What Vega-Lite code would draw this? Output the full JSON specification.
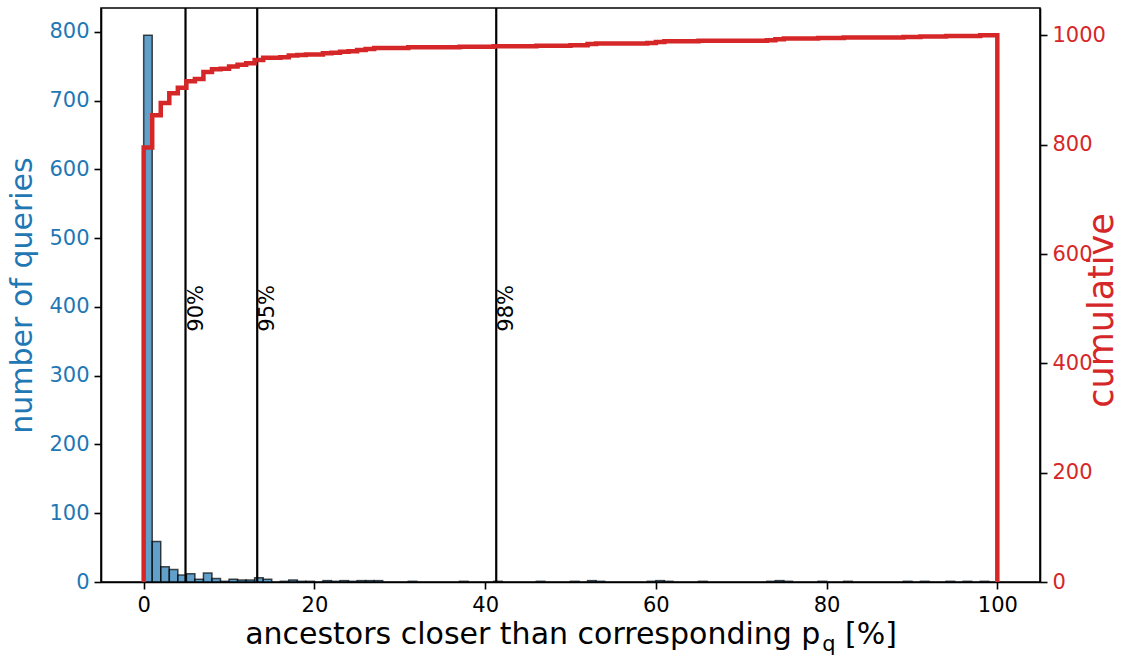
{
  "$schema": "https://vega.github.io/schema/vega-lite/v6.json",
  "width": 939,
  "height": 574,
  "autosize": {"type": "none"},
  "padding": {"left": 101, "top": 8, "right": 108, "bottom": 75},
  "background": "white",
  "config": {
    "font": "DejaVu Sans",
    "view": {"stroke": "black", "strokeWidth": 1.6},
    "axis": {
      "grid": false,
      "domainColor": "black",
      "domainWidth": 1.6,
      "tickColor": "black",
      "tickWidth": 1.6,
      "tickSize": 7,
      "labelFontSize": 21,
      "titleFontSize": 30,
      "titleFontWeight": "normal",
      "labelFont": "DejaVu Sans",
      "titleFont": "DejaVu Sans",
      "labelPadding": 5
    }
  },
  "datasets": {
    "hist": [
      {"lo": 0, "hi": 1, "n": 795},
      {"lo": 1, "hi": 2, "n": 59},
      {"lo": 2, "hi": 3, "n": 22},
      {"lo": 3, "hi": 4, "n": 18},
      {"lo": 4, "hi": 5, "n": 10},
      {"lo": 5, "hi": 6, "n": 12},
      {"lo": 6, "hi": 7, "n": 4},
      {"lo": 7, "hi": 8, "n": 13},
      {"lo": 8, "hi": 9, "n": 5},
      {"lo": 9, "hi": 10, "n": 1},
      {"lo": 10, "hi": 11, "n": 4},
      {"lo": 11, "hi": 12, "n": 3},
      {"lo": 12, "hi": 13, "n": 3},
      {"lo": 13, "hi": 14, "n": 6},
      {"lo": 14, "hi": 15, "n": 4},
      {"lo": 16, "hi": 17, "n": 1},
      {"lo": 17, "hi": 18, "n": 3},
      {"lo": 18, "hi": 19, "n": 1},
      {"lo": 19, "hi": 20, "n": 1},
      {"lo": 21, "hi": 22, "n": 2},
      {"lo": 22, "hi": 23, "n": 1},
      {"lo": 23, "hi": 24, "n": 2},
      {"lo": 24, "hi": 25, "n": 1},
      {"lo": 25, "hi": 26, "n": 2},
      {"lo": 26, "hi": 27, "n": 2},
      {"lo": 27, "hi": 28, "n": 2},
      {"lo": 31, "hi": 32, "n": 1},
      {"lo": 37, "hi": 38, "n": 1},
      {"lo": 41, "hi": 42, "n": 1},
      {"lo": 46, "hi": 47, "n": 1},
      {"lo": 50, "hi": 51, "n": 1},
      {"lo": 52, "hi": 53, "n": 2},
      {"lo": 53, "hi": 54, "n": 1},
      {"lo": 59, "hi": 60, "n": 1},
      {"lo": 60, "hi": 61, "n": 2},
      {"lo": 61, "hi": 62, "n": 1},
      {"lo": 65, "hi": 66, "n": 1},
      {"lo": 73, "hi": 74, "n": 1},
      {"lo": 74, "hi": 75, "n": 2},
      {"lo": 75, "hi": 76, "n": 1},
      {"lo": 79, "hi": 80, "n": 1},
      {"lo": 82, "hi": 83, "n": 1},
      {"lo": 89, "hi": 90, "n": 1},
      {"lo": 91, "hi": 92, "n": 1},
      {"lo": 94, "hi": 95, "n": 1},
      {"lo": 96, "hi": 97, "n": 1},
      {"lo": 98, "hi": 99, "n": 1}
    ],
    "cum": [
      {"i": 0, "x": 0, "cum": 0},
      {"i": 1, "x": 0, "cum": 795},
      {"i": 2, "x": 1, "cum": 854},
      {"i": 3, "x": 2, "cum": 876},
      {"i": 4, "x": 3, "cum": 894},
      {"i": 5, "x": 4, "cum": 904},
      {"i": 6, "x": 5, "cum": 916},
      {"i": 7, "x": 6, "cum": 920},
      {"i": 8, "x": 7, "cum": 933},
      {"i": 9, "x": 8, "cum": 938},
      {"i": 10, "x": 9, "cum": 939},
      {"i": 11, "x": 10, "cum": 943},
      {"i": 12, "x": 11, "cum": 946},
      {"i": 13, "x": 12, "cum": 949},
      {"i": 14, "x": 13, "cum": 955},
      {"i": 15, "x": 14, "cum": 959},
      {"i": 16, "x": 16, "cum": 960},
      {"i": 17, "x": 17, "cum": 963},
      {"i": 18, "x": 18, "cum": 964},
      {"i": 19, "x": 19, "cum": 965},
      {"i": 20, "x": 21, "cum": 967},
      {"i": 21, "x": 22, "cum": 968},
      {"i": 22, "x": 23, "cum": 970},
      {"i": 23, "x": 24, "cum": 971},
      {"i": 24, "x": 25, "cum": 973},
      {"i": 25, "x": 26, "cum": 975},
      {"i": 26, "x": 27, "cum": 977},
      {"i": 27, "x": 31, "cum": 978},
      {"i": 28, "x": 37, "cum": 979},
      {"i": 29, "x": 41, "cum": 980},
      {"i": 30, "x": 46, "cum": 981},
      {"i": 31, "x": 50, "cum": 982},
      {"i": 32, "x": 52, "cum": 984},
      {"i": 33, "x": 53, "cum": 985},
      {"i": 34, "x": 59, "cum": 986},
      {"i": 35, "x": 60, "cum": 988},
      {"i": 36, "x": 61, "cum": 989},
      {"i": 37, "x": 65, "cum": 990},
      {"i": 38, "x": 73, "cum": 991},
      {"i": 39, "x": 74, "cum": 993},
      {"i": 40, "x": 75, "cum": 994},
      {"i": 41, "x": 79, "cum": 995},
      {"i": 42, "x": 82, "cum": 996},
      {"i": 43, "x": 89, "cum": 997},
      {"i": 44, "x": 91, "cum": 998},
      {"i": 45, "x": 94, "cum": 999},
      {"i": 46, "x": 96, "cum": 999},
      {"i": 47, "x": 98, "cum": 1000},
      {"i": 48, "x": 100, "cum": 1000},
      {"i": 49, "x": 100, "cum": 0}
    ],
    "pct": [
      {"x": 4.9, "label": "90%"},
      {"x": 13.3, "label": "95%"},
      {"x": 41.3, "label": "98%"}
    ]
  },
  "layer": [
    {
      "layer": [
        {
          "data": {"name": "hist"},
          "mark": {"type": "rect", "fill": "#1f77b4", "fillOpacity": 0.7, "stroke": "black", "strokeOpacity": 0.7, "strokeWidth": 1.5},
          "encoding": {
            "x": {
              "field": "lo", "type": "quantitative",
              "scale": {"domain": [-5, 105], "nice": false, "zero": false},
              "axis": {"values": [0, 20, 40, 60, 80, 100], "title": "ancestors closer than corresponding p\u2002 [%]", "titlePadding": 4, "labelColor": "black", "titleColor": "black"}
            },
            "x2": {"field": "hi"},
            "y": {
              "field": "n", "type": "quantitative",
              "scale": {"domain": [0, 834.75], "nice": false},
              "axis": {"orient": "left", "values": [0, 100, 200, 300, 400, 500, 600, 700, 800], "title": "number of queries", "labelColor": "#1f77b4", "titleColor": "#1f77b4", "titlePadding": 11}
            },
            "y2": {"datum": 0}
          }
        },
        {
          "data": {"name": "pct"},
          "mark": {"type": "rule", "color": "black", "strokeWidth": 2.2},
          "encoding": {"x": {"field": "x", "type": "quantitative"}}
        },
        {
          "data": {"name": "pct"},
          "mark": {"type": "text", "angle": 270, "align": "left", "baseline": "top", "fontSize": 21, "color": "black", "font": "DejaVu Sans"},
          "encoding": {
            "x": {"field": "x", "type": "quantitative"},
            "y": {"datum": 364},
            "text": {"field": "label"}
          }
        },
        {
          "data": {"values": [{"t": "q"}]},
          "mark": {"type": "text", "align": "left", "baseline": "alphabetic", "fontSize": 21, "color": "black", "font": "DejaVu Sans"},
          "encoding": {
            "x": {"datum": 79.5},
            "y": {"datum": -101},
            "text": {"field": "t"}
          }
        }
      ]
    },
    {
      "data": {"name": "cum"},
      "mark": {"type": "line", "color": "#d62728", "strokeWidth": 4.5, "interpolate": "step-after", "strokeJoin": "miter"},
      "encoding": {
        "x": {"field": "x", "type": "quantitative"},
        "y": {
          "field": "cum", "type": "quantitative",
          "scale": {"domain": [0, 1050], "nice": false},
          "axis": {"orient": "right", "values": [0, 200, 400, 600, 800, 1000], "format": "d", "title": "cumulative", "titleFontSize": 35, "titleAngle": 270, "titleY": 302, "labelColor": "#d62728", "titleColor": "#d62728", "titlePadding": 14}
        },
        "order": {"field": "i"}
      }
    }
  ],
  "resolve": {"scale": {"y": "independent"}}
}
